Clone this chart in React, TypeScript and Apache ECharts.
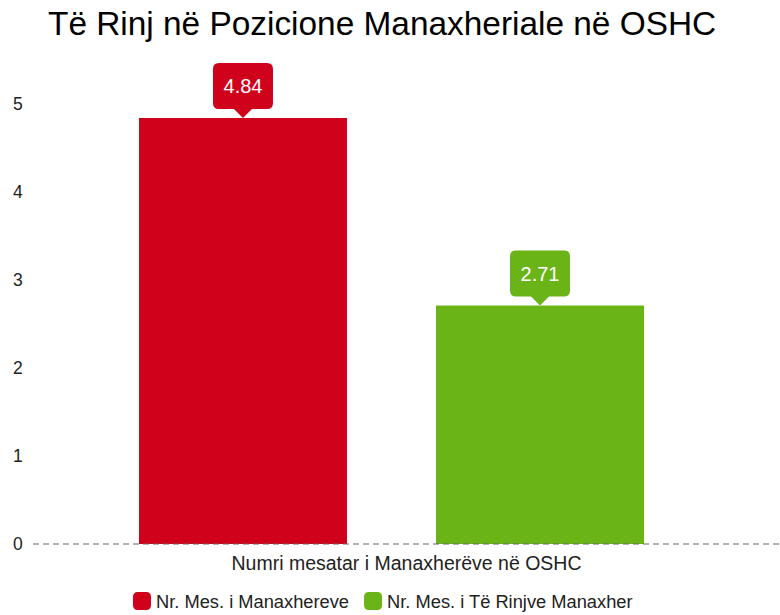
import React, { useEffect, useRef } from "react";
import * as echarts from "echarts";

const categories = ["Numri mesatar i Manaxherëve në OSHC"];
const seriesNames = ["Nr. Mes. i Manaxhereve", "Nr. Mes. i Të Rinjve Manaxher"];
const managers = [4.84];
const newManagers = [2.71];
const colors = ["#D0021B", "#6AB417"];
const yTicks = { min: 0, max: 5, interval: 1 };

const calloutPath =
  "path://M6,0 H54 Q60,0 60,6 V40 Q60,46 54,46 H39 L30,55 L21,46 H6 Q0,46 0,40 V6 Q0,0 6,0 Z";

const FONT = "Liberation Sans, Arial, sans-serif";

function makeSeries(name: string, data: number[], color: string) {
  return {
    name,
    type: "bar",
    data,
    barWidth: 208,
    barGap: "42.8%",
    itemStyle: { color },
    markPoint: {
      symbol: calloutPath,
      symbolSize: [60, 55],
      symbolOffset: [0, "-50%"],
      itemStyle: { color },
      label: {
        show: true,
        position: "inside",
        offset: [0, -4.5],
        color: "#fff",
        fontSize: 20,
        fontFamily: FONT,
        formatter: (p: any) => String(p.value),
      },
      data: [{ type: "max", name: "max" }],
    },
  };
}

export default function App() {
  const ref = useRef<HTMLDivElement>(null);
  useEffect(() => {
    if (!ref.current) return;
    const chart = echarts.init(ref.current, null, { renderer: "svg" });
    chart.setOption({
      animation: false,
      textStyle: { fontFamily: FONT },
      title: {
        text: "Të Rinj në Pozicione Manaxheriale në OSHC",
        left: 43,
        top: 2,
        textStyle: { fontSize: 33.4, fontWeight: "normal", color: "#000" },
      },
      grid: { left: 3, right: 0, top: 104, bottom: 71 },
      legend: {
        top: 589,
        left: 130,
        padding: 3,
        itemWidth: 18,
        itemHeight: 18,
        itemGap: 15,
        icon: "roundRect",
        textStyle: { fontSize: 18.3, color: "#222" },
        data: seriesNames,
      },
      xAxis: {
        type: "category",
        data: categories,
        axisLine: { show: false },
        axisTick: { show: false },
        axisLabel: {
          fontSize: 19.5,
          color: "#222",
          margin: 9,
          padding: [0, 0, 0, 30],
        },
      },
      yAxis: {
        type: "value",
        min: yTicks.min,
        max: yTicks.max,
        interval: yTicks.interval,
        splitLine: { show: false },
        axisLine: { show: false },
        axisTick: { show: false },
        axisLabel: { inside: true, margin: 10, fontSize: 17.5, color: "#222" },
      },
      graphic: [
        {
          type: "line",
          z: 10,
          shape: { x1: 33, y1: 544, x2: 780, y2: 544 },
          style: { stroke: "#666", lineWidth: 1, lineDash: [6, 4] },
        },
      ],
      series: [
        makeSeries(seriesNames[0], managers, colors[0]),
        makeSeries(seriesNames[1], newManagers, colors[1]),
      ],
    });
    return () => chart.dispose();
  }, []);
  return <div ref={ref} style={{ width: 780, height: 615, position: "absolute", left: 0, top: 0 }} />;
}
